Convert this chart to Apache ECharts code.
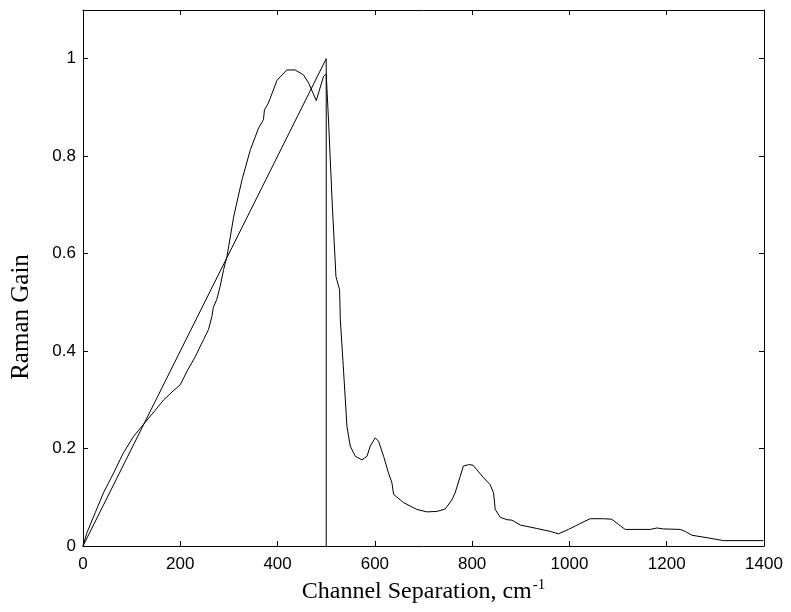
<!DOCTYPE html>
<html>
<head>
<meta charset="utf-8">
<script src="https://cdn.jsdelivr.net/npm/echarts@6/dist/echarts.min.js"></script>
<style>html,body{margin:0;padding:0;background:#fff}#c{width:791px;height:612px}</style>
</head>
<body>
<div id="c"></div>
<script>
// Triangular approximation
var triX = [0, 500, 500];
var triY = [0, 1.0, 0];

// Measured Raman gain curve (fused silica)
var ramanX = [0, 8, 25, 42, 63, 83, 104, 128, 148, 166, 185, 200, 214, 231, 248, 258, 265, 268, 275, 282, 289, 296, 310, 327, 344, 361, 371, 373, 381, 399, 419, 436, 453, 464, 479.5, 494.6, 500,
  505, 512, 520, 527.5, 529, 535, 542.6, 549.4, 559.7, 573.5, 583.8, 590.5, 600.8, 607.6, 618, 628, 635, 638.5, 659, 686.5, 707, 727.6, 744.7, 758.5, 765, 775.5, 782, 792.6, 801.6, 823.5, 837, 844, 847.5, 857.8, 871.5, 881.8, 898.9, 933, 960.5, 977.6, 998, 1012, 1025.7, 1042.8, 1070, 1087, 1101, 1114.7, 1166, 1180, 1193, 1228, 1238, 1252, 1282.6, 1316.8, 1399, 1400];
var ramanY = [0, 0.027, 0.068, 0.109, 0.150, 0.191, 0.225, 0.254, 0.278, 0.300, 0.318, 0.331, 0.359, 0.389, 0.424, 0.444, 0.471, 0.490, 0.506, 0.533, 0.567, 0.594, 0.677, 0.752, 0.813, 0.858, 0.875, 0.895, 0.909, 0.956, 0.977, 0.977, 0.967, 0.950, 0.914, 0.964, 0.969,
  0.868, 0.71, 0.553, 0.526, 0.464, 0.37, 0.246, 0.205, 0.184, 0.177, 0.184, 0.205, 0.222, 0.215, 0.184, 0.150, 0.130, 0.106, 0.089, 0.075, 0.070, 0.071, 0.076, 0.095, 0.109, 0.143, 0.164, 0.167, 0.166, 0.140, 0.126, 0.109, 0.075, 0.059, 0.054, 0.053, 0.043, 0.036, 0.030, 0.025, 0.034, 0.041, 0.048, 0.056, 0.056, 0.055, 0.044, 0.034, 0.034, 0.037, 0.035, 0.034, 0.030, 0.022, 0.017, 0.011, 0.011, 0.011];

var xTicks = [0, 200, 400, 600, 800, 1000, 1200, 1400];
var yTicks = [0, 0.2, 0.4, 0.6, 0.8, 1];

function pairs(xs, ys) { return xs.map(function (x, i) { return [x, ys[i]]; }); }

var sans = '"Liberation Sans", Arial, Helvetica, sans-serif';
var serif = '"Liberation Serif", "Times New Roman", serif';

var chart = echarts.init(document.getElementById('c'), null, {renderer: 'canvas'});
var axisLine = {show: true, onZero: false, lineStyle: {color: '#000', width: 1}};
var tick = {show: true, inside: true, length: 5, lineStyle: {color: '#000', width: 1}};

chart.setOption({
  animation: false,
  backgroundColor: '#fff',
  grid: {left: 83, right: 27, top: 10, bottom: 66, containLabel: false},
  xAxis: [{
    type: 'value', min: 0, max: 1400, interval: 200, position: 'bottom',
    axisLine: axisLine, axisTick: tick, splitLine: {show: false},
    axisLabel: {color: '#000', fontFamily: sans, fontSize: 17, margin: 10,
      formatter: function (v) { return xTicks.indexOf(v) >= 0 ? String(v) : ''; }},
    name: 'Channel Separation, cm{s|-1}', nameLocation: 'middle', nameGap: 30,
    nameTextStyle: {color: '#000', fontFamily: serif, fontSize: 24, lineHeight: 28,
      rich: {s: {fontFamily: serif, fontSize: 15, verticalAlign: 'top', lineHeight: 28, padding: [0, 0, 12, 1]}}}
  }, {
    type: 'value', min: 0, max: 1400, interval: 200, position: 'top',
    axisLine: axisLine, axisTick: tick, axisLabel: {show: false}, splitLine: {show: false}
  }],
  yAxis: [{
    type: 'value', min: 0, max: 1.1, interval: 0.2, position: 'left',
    axisLine: axisLine, axisTick: tick, splitLine: {show: false},
    axisLabel: {color: '#000', fontFamily: sans, fontSize: 17, margin: 7,
      formatter: function (v) {
        for (var i = 0; i < yTicks.length; i++) if (Math.abs(v - yTicks[i]) < 1e-9) return String(yTicks[i]);
        return '';
      }}
  }, {
    type: 'value', min: 0, max: 1.1, interval: 0.2, position: 'right',
    axisLine: axisLine, axisTick: tick, axisLabel: {show: false}, splitLine: {show: false}
  }],
  graphic: [{
    type: 'text', x: 21, y: 317, rotation: Math.PI / 2,
    style: {text: 'Raman Gain', fill: '#000', font: '25px ' + serif, textAlign: 'center', textVerticalAlign: 'middle'}
  }],
  series: [{
    type: 'line', data: pairs(triX, triY), showSymbol: false, symbol: 'none',
    lineStyle: {color: '#000', width: 1}, z: 3
  }, {
    type: 'line', data: pairs(ramanX, ramanY), showSymbol: false, symbol: 'none',
    lineStyle: {color: '#000', width: 1}, z: 4
  }]
});
</script>
</body>
</html>
